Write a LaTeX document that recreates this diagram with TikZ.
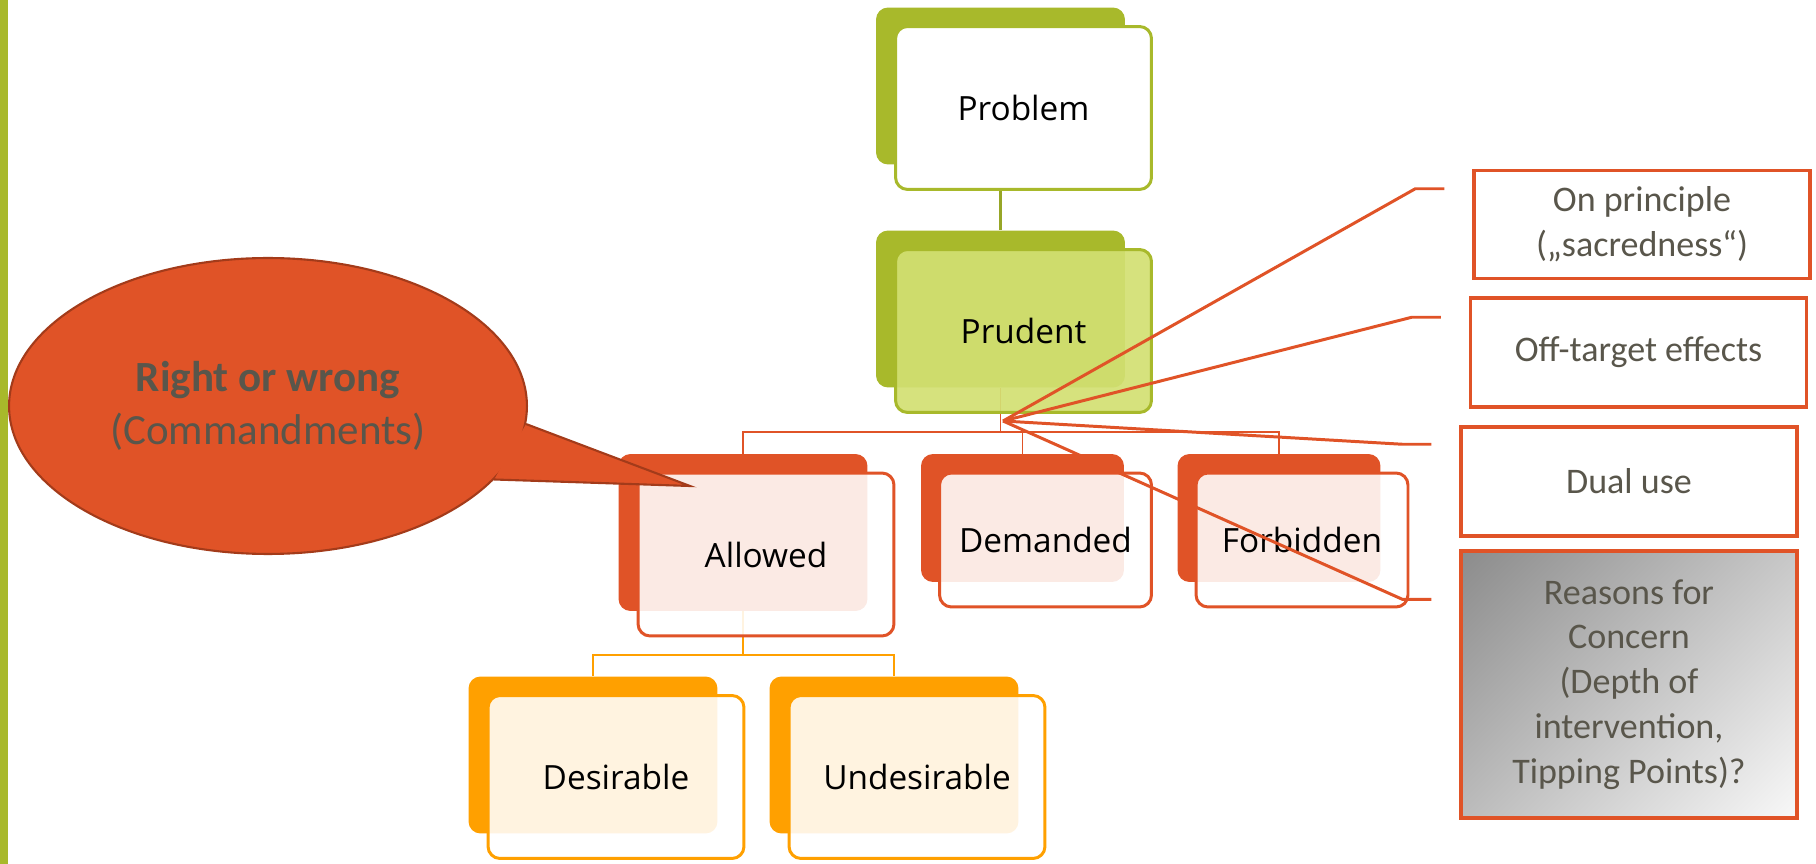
\documentclass[tikz,border=0pt]{standalone}
\usepackage{fontspec}
\setmainfont{Open Sans}
\newfontfamily\noteface{Carlito}
\usepackage{tikz}
\usetikzlibrary{positioning, shapes.geometric, backgrounds, calc}

\definecolor{leafgreen}{HTML}{A8B92B}
\definecolor{paleleaf}{HTML}{D2DF72}
\definecolor{brick}{HTML}{E05327}
\definecolor{darkbrick}{HTML}{A33B1A}
\definecolor{amber}{HTML}{FFA000}
\definecolor{slate}{HTML}{59564B}

% diagonal grey fill for the last reason
\pgfdeclarehorizontalshading{greyfade}{100bp}{color(0bp)=(black!45); color(15bp)=(black!45);
  color(85bp)=(black!3); color(100bp)=(black!3)}

\begin{document}
\begin{tikzpicture}[x=0.02cm, y=-0.02cm,
  backbox/.style={rectangle, rounded corners=0.24cm, inner sep=0pt,
    minimum width=4.98cm, minimum height=3.14cm},
  frontbox/.style={rectangle, rounded corners=0.24cm, line width=1.7pt,
    minimum width=5.12cm, minimum height=3.26cm, text opacity=1,
    font=\fontsize{19}{23}\selectfont},
  smallback/.style={backbox, minimum width=4.06cm, minimum height=2.56cm},
  smallfront/.style={frontbox, minimum width=4.24cm, minimum height=2.68cm},
  tie/.style={draw=leafgreen!90!black, line width=2.2pt},
  bus/.style={draw=brick, line width=1.1pt},
  pointer/.style={draw=brick, line width=1.7pt},
  reasonbox/.style={rectangle, draw=brick, line width=2pt, align=center,
    minimum width=6.72cm, minimum height=2.16cm, text=slate,
    font=\noteface\fontsize{20.5}{25.5}\selectfont},
  bubble/.style={ellipse, fill=brick, draw=darkbrick, line width=1.2pt,
    minimum width=10.36cm, minimum height=5.92cm, inner sep=0pt,
    align=center, text=slate, font=\noteface\fontsize{24.5}{30}\selectfont}]

  \useasboundingbox (0,0) rectangle (1816,864);
  \fill[leafgreen] (0,0) rectangle (8,864);

  % tree
  \node[backbox, fill=leafgreen] (problemB) at (1000.5,86) {};
  \node[frontbox, fill=white, draw=leafgreen] (problem) at ($(problemB)+(23,22)$) {Problem};
  \node[backbox, fill=leafgreen] (prudentB) at (1000.5,309) {};
  \node[frontbox, fill=paleleaf, fill opacity=.92, draw=leafgreen] (prudent) at ($(prudentB)+(23,22)$) {Prudent};

  \node[backbox, fill=brick] (allowedB) at (743,532.5) {};
  \node[frontbox, fill=white, fill opacity=.88, draw=brick] (allowed) at ($(allowedB)+(23,22)$) {Allowed};
  \node[smallback, fill=brick] (demandedB) at (1022.5,518) {};
  \node[smallfront, fill=white, fill opacity=.88, draw=brick] (demanded) at ($(demandedB)+(23,22)$) {Demanded};
  \node[smallback, fill=brick] (forbiddenB) at (1279,518) {};
  \node[smallfront, fill=white, fill opacity=.88, draw=brick] (forbidden) at ($(forbiddenB)+(23,22)$) {Forbidden};

  \node[backbox, fill=amber] (desirableB) at (593,755) {};
  \node[frontbox, fill=white, fill opacity=.88, draw=amber] (desirable) at ($(desirableB)+(23,22)$) {Desirable};
  \node[backbox, fill=amber] (undesirableB) at (894,755) {};
  \node[frontbox, fill=white, fill opacity=.88, draw=amber] (undesirable) at ($(undesirableB)+(23,22)$) {Undesirable};

  \coordinate (bus1) at (1000.5,432);
  \coordinate (bus2) at (743,655);
  \begin{scope}[on background layer]
    \draw[tie] (problemB.south) -- (prudentB.north);
    \draw[bus] (prudentB.south) -- (bus1);
    \foreach \kid in {allowedB, demandedB, forbiddenB}
      \draw[bus] (bus1) -| (\kid.north);
    \draw[bus, draw=amber] (allowedB.south) -- (bus2);
    \foreach \kid in {desirableB, undesirableB}
      \draw[bus, draw=amber] (bus2) -| (\kid.north);
  \end{scope}

  % reasons on the right
  \node[reasonbox] (principle) at (1642,224.5) {On principle\\(„sacredness“)};
  \node[reasonbox, minimum height=2.18cm] (offtarget) at (1638.5,352.5) {Off-target effects};
  \node[reasonbox, minimum height=2.18cm] (dualuse) at (1629,481.5) {Dual use};
  \node[reasonbox, minimum height=5.34cm, shading=greyfade, shading angle=-45] (concern) at (1629,684.5)
    {Reasons for\\Concern\\(Depth of\\intervention,\\Tipping Points)?};

  \coordinate (hub) at (1003,421);
  \foreach \tgt/\dy in {principle/20, offtarget/21, dualuse/19, concern/50}
    \draw[pointer] (hub) -- ($(\tgt.north west)+(-57,\dy)$) -- ($(\tgt.north west)+(-28,\dy)$);

  % speech bubble
  \node[bubble] (bubble) at (268,406) {\textbf{Right or wrong}\\(Commandments)};
  \coordinate (tip) at (690,486);
  \fill[brick] (bubble.-4) -- (tip) -- (bubble.-18) -- cycle;
  \draw[darkbrick, line width=1.2pt] (bubble.-4) -- (tip) -- (bubble.-18);
\end{tikzpicture}
\end{document}
